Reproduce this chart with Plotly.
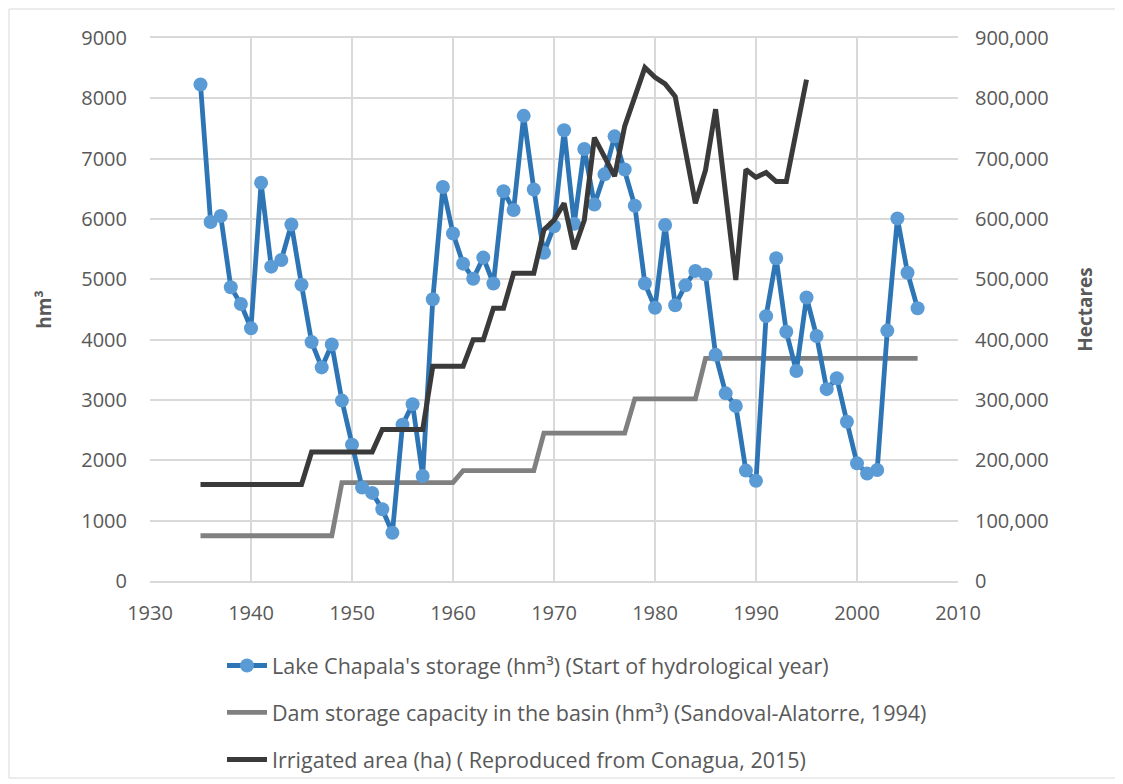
import plotly.graph_objects as go

lake_years = list(range(1935, 2007))
lake_storage = [8230, 5950, 6050, 4870, 4590, 4190, 6600, 5210, 5320, 5910,
                4910, 3960, 3540, 3920, 2990, 2260, 1550, 1460, 1190, 800,
                2590, 2930, 1740, 4670, 6530, 5760, 5260, 5010, 5360, 4930,
                6460, 6150, 7710, 6490, 5440, 5880, 7470, 5920, 7160, 6240,
                6740, 7370, 6820, 6220, 4930, 4530, 5900, 4570, 4900, 5140,
                5080, 3750, 3110, 2900, 1830, 1660, 4390, 5350, 4130, 3480,
                4700, 4060, 3180, 3360, 2640, 1950, 1780, 1840, 4150, 6010,
                5110, 4520]

dam_years = list(range(1935, 2007))
dam_capacity = [750, 750, 750, 750, 750, 750, 750, 750, 750, 750,
                750, 750, 750, 750, 1630, 1630, 1630, 1630, 1630, 1630,
                1630, 1630, 1630, 1630, 1630, 1630, 1830, 1830, 1830, 1830,
                1830, 1830, 1830, 1830, 2450, 2450, 2450, 2450, 2450, 2450,
                2450, 2450, 2450, 3020, 3020, 3020, 3020, 3020, 3020, 3020,
                3690, 3690, 3690, 3690, 3690, 3690, 3690, 3690, 3690, 3690,
                3690, 3690, 3690, 3690, 3690, 3690, 3690, 3690, 3690, 3690,
                3690, 3690]

irr_years = list(range(1935, 1996))
irrigated_area = [160000, 160000, 160000, 160000, 160000, 160000, 160000, 160000,
                  160000, 160000, 160000, 214000, 214000, 214000, 214000, 214000,
                  214000, 214000, 251000, 251000, 251000, 251000, 251000, 356000,
                  356000, 356000, 356000, 400000, 400000, 452000, 452000, 510000,
                  510000, 510000, 582000, 598000, 626000, 550000, 598000, 735000,
                  703000, 671000, 754000, 803000, 851000, 835000, 824000, 803000,
                  714000, 626000, 681000, 782000, 640000, 499000, 682000, 669000,
                  677000, 662000, 662000, 746000, 831000]

x_ticks = [1930, 1940, 1950, 1960, 1970, 1980, 1990, 2000, 2010]
y_ticks = [0, 1000, 2000, 3000, 4000, 5000, 6000, 7000, 8000, 9000]
y2_ticks = [0, 100000, 200000, 300000, 400000, 500000, 600000, 700000, 800000, 900000]
y2_labels = ["0", "100,000", "200,000", "300,000", "400,000", "500,000",
             "600,000", "700,000", "800,000", "900,000"]

FONT = "Open Sans"
TXT = "#595959"
GRID = "#D9D9D9"

fig = go.Figure()
fig.add_trace(go.Scatter(
    x=dam_years, y=dam_capacity, mode="lines",
    name="Dam storage capacity in the basin (hm³) (Sandoval-Alatorre, 1994)",
    line=dict(color="#808080", width=4.8), legendgroup="b", legendrank=2))
fig.add_trace(go.Scatter(
    x=lake_years, y=lake_storage, mode="lines+markers",
    name="Lake Chapala's storage (hm³) (Start of hydrological year)",
    line=dict(color="#2E75B6", width=4.8),
    marker=dict(color="#5B9BD5", size=14, line=dict(width=0)),
    legendgroup="a", legendrank=1))
fig.add_trace(go.Scatter(
    x=irr_years, y=irrigated_area, mode="lines", yaxis="y2",
    name="Irrigated area (ha) ( Reproduced from Conagua, 2015)",
    line=dict(color="#3A3A3A", width=5), legendgroup="c", legendrank=3))

# plot area in the screenshot: x 150..958, y 38..581 (page has an 8px body margin)
fig.update_layout(
    width=1123, height=784,
    margin=dict(l=142, r=173, t=30, b=211, autoexpand=False),
    paper_bgcolor="white", plot_bgcolor="white",
    font=dict(family=FONT, size=20, color=TXT),
    showlegend=True,
    legend=dict(x=(222 - 150) / 808, y=(581 - 645) / 543, xanchor="left", yanchor="top",
                orientation="v", tracegroupgap=16,
                font=dict(family=FONT, size=21.5, color=TXT),
                itemwidth=40, bgcolor="rgba(0,0,0,0)"),
    xaxis=dict(range=[1930, 2010], tickvals=x_ticks, showgrid=True,
               gridcolor=GRID, gridwidth=1.5, showline=True, linecolor=GRID,
               linewidth=1.5, mirror=True, zeroline=False, ticks="",
               automargin=False,
               ticklabelstandoff=13, tickfont=dict(size=20, color=TXT)),
    yaxis=dict(range=[0, 9000], tickvals=y_ticks, showgrid=True,
               gridcolor=GRID, gridwidth=1.5, zeroline=False, ticks="",
               automargin=False,
               ticklabelstandoff=22, tickfont=dict(size=20, color=TXT),
               title=dict(text="<b>hm³</b>", standoff=24,
                          font=dict(size=19, color=TXT))),
    yaxis2=dict(range=[0, 900000], tickvals=y2_ticks, ticktext=y2_labels,
                overlaying="y", side="right", showgrid=False, zeroline=False,
                ticks="", ticklabelstandoff=16, automargin=False,
                tickfont=dict(size=20, color=TXT),
                title=dict(text="<b>Hectares</b>", standoff=30,
                           font=dict(size=19, color=TXT))),
    shapes=[dict(type="rect", xref="paper", yref="paper",
                 x0=(9 - 150) / 808, x1=(1116 - 150) / 808,
                 y0=(581 - 778) / 543, y1=(581 - 9) / 543,
                 line=dict(color="#D9D9D9", width=1), fillcolor="rgba(0,0,0,0)",
                 layer="below")],
)

fig.write_html("out.html")
